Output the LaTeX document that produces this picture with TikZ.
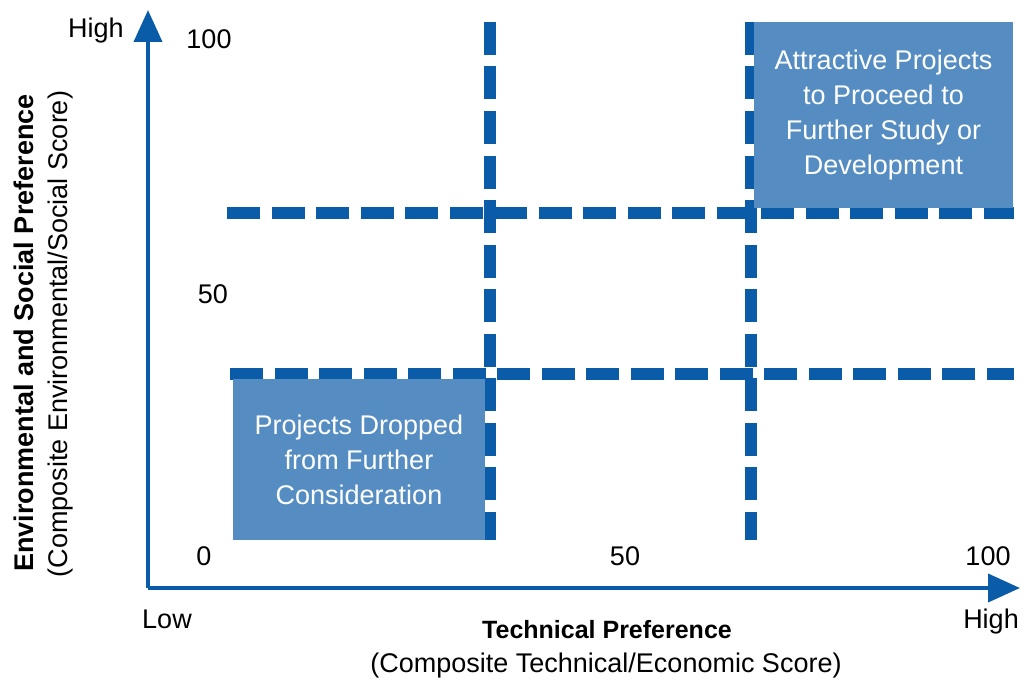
\documentclass[tikz,border=0pt]{standalone}
\usepackage{fontspec}
\setmainfont{Liberation Sans}
\usetikzlibrary{arrows.meta}
\definecolor{darkblue}{HTML}{0B5CA8}
\definecolor{boxblue}{HTML}{558DC3}

\begin{document}
\begin{tikzpicture}[x=1pt, y=-1pt]
        \tikzstyle{every node}=[font=\fontsize{27}{35}\selectfont, inner sep=0pt]
        \tikzstyle{axis}=[darkblue, line width=4pt, -{Triangle[length=32pt, width=28pt]}]
        \tikzstyle{split}=[darkblue, line width=12pt, dash pattern=on 33pt off 11.5pt]
        \tikzstyle{region}=[fill=boxblue, text=white, align=center]
        \tikzstyle{title}=[font=\fontsize{25}{30}\selectfont\bfseries]

        \useasboundingbox (0,0) rectangle (1024,682);

        % axes
        \coordinate (o)  at (148,588);
        \coordinate (xe) at (1020,588);
        \coordinate (ye) at (148,10);
        \draw[axis] (o) -- (xe);
        \draw[axis] (o) -- (ye);

        % dashed splits
        \coordinate (h1a) at (227,213);  \coordinate (h1b) at (1014,213);
        \coordinate (h2a) at (230,374);  \coordinate (h2b) at (1014,374);
        \coordinate (v1a) at (490,22);   \coordinate (v1b) at (490,540);
        \coordinate (v2a) at (751,22);   \coordinate (v2b) at (751,540);
        \draw[split] (h1a) -- (h1b);
        \draw[split] (h2a) -- (h2b);
        \draw[split] (v1a) -- (v1b);
        \draw[split] (v2a) -- (v2b);

        % regions
        \node (drop) [region, minimum width=252pt, minimum height=161pt] at (359,459.5)
            {Projects Dropped\\from Further\\Consideration};
        \node (go)   [region, minimum width=259pt, minimum height=186pt] at (883.5,115)
            {Attractive Projects\\to Proceed to\\Further Study or\\Development};

        % ticks
        \node (y100) [anchor=base] at (209,49)  {100};
        \node (y50)  [anchor=base] at (213,303) {50};
        \node (x0)   [anchor=base] at (204,565) {0};
        \node (x50)  [anchor=base] at (625,565) {50};
        \node (x100) [anchor=base] at (988,565) {100};
        \node (yhi)  [anchor=base] at (96,38)   {High};
        \node (xlo)  [anchor=base] at (167,628) {Low};
        \node (xhi)  [anchor=base] at (991,628) {High};

        % axis titles
        \node (xt)  [title, anchor=base] at (607,638) {Technical Preference};
        \node (xs)  [anchor=base] at (606,672) {(Composite Technical/Economic Score)};
        \node (yt)  [title, font=\fontsize{27}{30}\selectfont\bfseries, anchor=base, rotate=90] at (33,333)
            {Environmental and Social Preference};
        \node (ys)  [anchor=base, rotate=90] at (67,334) {(Composite Environmental/Social Score)};

    \end{tikzpicture}
\end{document}
